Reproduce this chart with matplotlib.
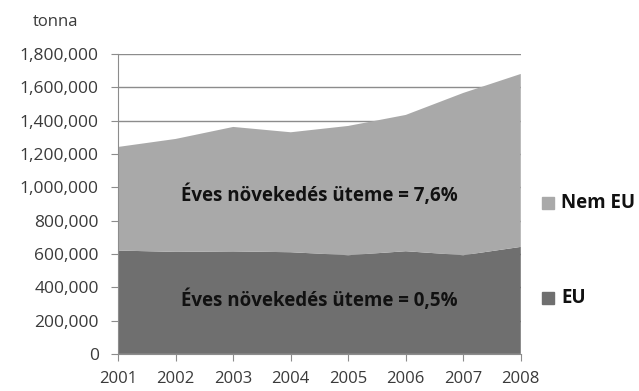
import matplotlib.pyplot as plt
from matplotlib.ticker import FuncFormatter

years = [2001, 2002, 2003, 2004, 2005, 2006, 2007, 2008]
eu = [620000, 612000, 615000, 610000, 592000, 616000, 592000, 642000]
nem_eu_total = [1242000, 1290000, 1362000, 1330000, 1368000, 1434000, 1566000, 1680000]
nem_eu = [t - e for t, e in zip(nem_eu_total, eu)]

labels = ["EU", "Nem EU"]
notes = ["Éves növekedés üteme = 0,5%", "Éves növekedés üteme = 7,6%"]
colors = ["#6f6f6f", "#a9a9a9"]

plt.rcParams['font.family'] = ['Open Sans', 'DejaVu Sans']

fig = plt.figure(figsize=(6.39, 3.91), dpi=100)
ax = fig.add_axes([0.185, 0.095, 0.63, 0.767])

ax.stackplot(years, eu, nem_eu, colors=colors, zorder=2)

ax.set_xlim(2001, 2008)
ax.set_ylim(0, 1800000)
ax.set_yticks(range(0, 1800001, 200000))
ax.set_xticks(years)
ax.yaxis.set_major_formatter(FuncFormatter(lambda v, p: f"{int(v):,}"))
ax.grid(axis='y', color='#8c8c8c', linewidth=1.0, zorder=1)
ax.set_axisbelow(True)

for s in ['top', 'right']:
    ax.spines[s].set_visible(False)
ax.spines['left'].set_color('#8c8c8c')
ax.spines['bottom'].set_color('#8c8c8c')
ax.tick_params(axis='both', colors='#8c8c8c', labelcolor='#3a3a3a',
               labelsize=12.5, length=5, direction='out')
ax.tick_params(axis='x', pad=7, labelsize=12)
ax.tick_params(axis='y', pad=9)

fig.text(0.052, 0.945, "tonna", fontsize=12, color='#3a3a3a', ha='left', va='center')

ax.text(0.5, 0.53, notes[1], transform=ax.transAxes, ha='center', va='center',
        fontsize=13.5, fontweight='bold', color='#111111')
ax.text(0.5, 0.18, notes[0], transform=ax.transAxes, ha='center', va='center',
        fontsize=13.5, fontweight='bold', color='#111111')

# legend entries drawn at right side
for lab, col, yy in [(labels[1], colors[1], 0.481), (labels[0], colors[0], 0.238)]:
    fig.add_artist(plt.Line2D([0.857], [yy], marker='s', markersize=8,
                              color=col, linestyle='none', transform=fig.transFigure))
    fig.text(0.878, yy, lab, fontsize=13.5, fontweight='bold', color='#111111',
             ha='left', va='center')

fig.savefig("out.png", dpi=100)
